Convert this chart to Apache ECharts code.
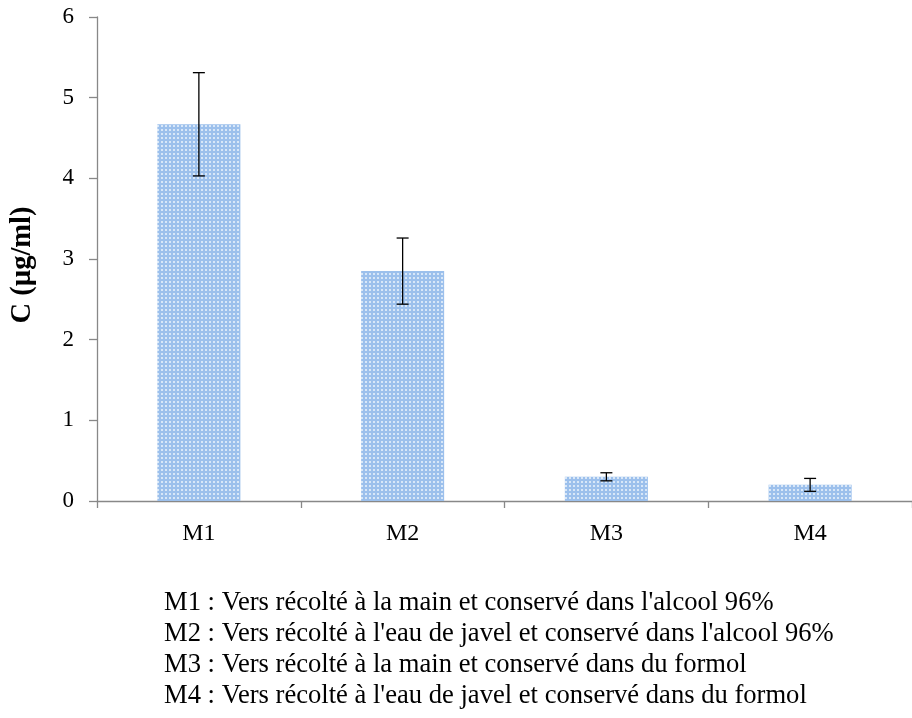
<!DOCTYPE html>
<html>
<head>
<meta charset="utf-8">
<script src="https://cdn.jsdelivr.net/npm/echarts@6/dist/echarts.min.js"></script>
<style>
  html, body { margin: 0; padding: 0; background: #fff; }
  #chart { width: 912px; height: 718px; }
</style>
</head>
<body>
<div id="chart"></div>
<script>
// Concentration per sample group, with standard deviation
const categories = ['M1', 'M2', 'M3', 'M4'];
const means = [4.67, 2.85, 0.30, 0.20];
const errors = [0.64, 0.41, 0.05, 0.08];
const yTicks = [0, 1, 2, 3, 4, 5, 6];
const notes = [
  "M1 : Vers récolté à la main et conservé dans l'alcool 96%",
  "M2 : Vers récolté à l'eau de javel et conservé dans l'alcool 96%",
  "M3 : Vers récolté à la main et conservé dans du formol",
  "M4 : Vers récolté à l'eau de javel et conservé dans du formol"
];

const serif = '"Liberation Serif", "Times New Roman", serif';

// Dotted light-blue fill for the bars
function makePattern() {
  const c = document.createElement('canvas');
  c.width = 4; c.height = 4;
  const ctx = c.getContext('2d');
  ctx.fillStyle = '#9cc0ec';
  ctx.fillRect(0, 0, 4, 4);
  ctx.fillStyle = '#d8e7f8';
  ctx.fillRect(1, 1, 2, 2);
  return c;
}
const barFill = { image: makePattern(), repeat: 'repeat' };

const errData = categories.map((c, i) => [i, means[i] - errors[i], means[i] + errors[i]]);

const chart = echarts.init(document.getElementById('chart'), null, { renderer: 'canvas' });
chart.setOption({
  backgroundColor: '#fff',
  animation: false,
  grid: { left: 97, top: 17, width: 820, bottom: 217, containLabel: false },
  xAxis: {
    type: 'category',
    data: categories,
    axisLine: { lineStyle: { color: '#888', width: 1.3 } },
    axisTick: { show: true, length: 7, lineStyle: { color: '#888', width: 1.3 } },
    axisLabel: { color: '#000', fontFamily: serif, fontSize: 24, margin: 21 }
  },
  yAxis: {
    type: 'value',
    min: yTicks[0],
    max: yTicks[yTicks.length - 1],
    interval: 1,
    name: 'C (µg/ml)',
    nameLocation: 'middle',
    nameGap: 60,
    nameTextStyle: {
      color: '#000', fontFamily: serif, fontSize: 28.5, fontWeight: 'bold',
      padding: [0, 12, 0, 0]
    },
    axisLine: { show: true, lineStyle: { color: '#888', width: 1.3 } },
    axisTick: { show: true, length: 8, lineStyle: { color: '#888', width: 1.3 } },
    axisLabel: { color: '#000', fontFamily: serif, fontSize: 23, margin: 23 },
    splitLine: { show: false }
  },
  series: [
    {
      type: 'bar',
      data: means,
      barWidth: 83,
      itemStyle: { color: barFill }
    },
    {
      type: 'custom',
      data: errData,
      z: 10,
      renderItem: function (params, api) {
        const x = api.value(0);
        const lo = api.coord([x, api.value(1)]);
        const hi = api.coord([x, api.value(2)]);
        const half = 6;
        const style = { stroke: '#000', lineWidth: 1.3 };
        return {
          type: 'group',
          children: [
            { type: 'line', shape: { x1: hi[0], y1: hi[1], x2: lo[0], y2: lo[1] }, style: style },
            { type: 'line', shape: { x1: hi[0] - half, y1: hi[1], x2: hi[0] + half, y2: hi[1] }, style: style },
            { type: 'line', shape: { x1: lo[0] - half, y1: lo[1], x2: lo[0] + half, y2: lo[1] }, style: style }
          ]
        };
      }
    }
  ],
  graphic: notes.map((t, i) => ({
    type: 'text',
    x: 164,
    y: 603 + i * 31,
    style: { text: t, fill: '#000', font: '26.6px ' + serif, textVerticalAlign: 'middle' }
  }))
});
</script>
</body>
</html>
